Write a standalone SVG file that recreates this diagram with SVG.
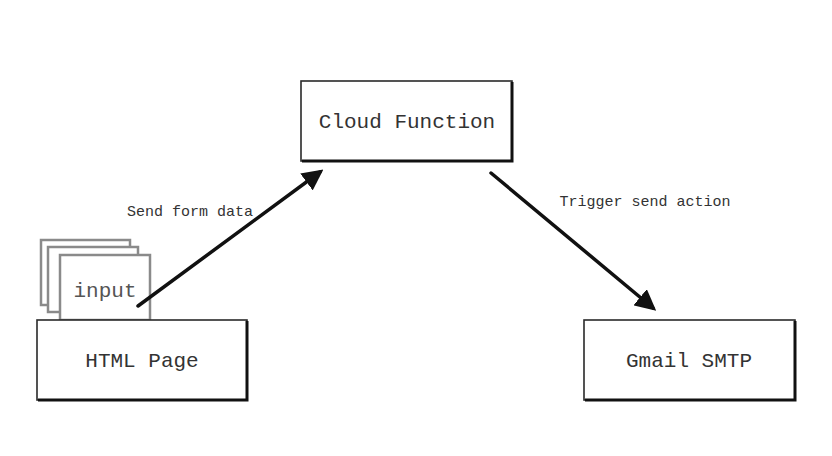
<svg xmlns="http://www.w3.org/2000/svg" width="832" height="456" viewBox="0 0 832 456">
<defs>
<style>
.box{fill:#fff;stroke:#2a2a2a;stroke-width:1.6}
.sh{fill:none;stroke:#111;stroke-width:3}
.lbl{font-family:"Liberation Mono",monospace;font-size:21px;fill:#333;text-anchor:middle}
.el{font-family:"Liberation Mono",monospace;font-size:15px;fill:#333;text-anchor:middle}
.card{fill:#fff;stroke:#8a8a8a;stroke-width:2.5}
.edge{stroke:#111;stroke-width:3.5;fill:none;stroke-linecap:round}
</style>
<marker id="ah" viewBox="0 0 10 10" refX="8" refY="5" markerWidth="6" markerHeight="6" markerUnits="strokeWidth" orient="auto">
<path d="M0,0 L10,5 L0,10 z" fill="#111"/>
</marker>
</defs>
<rect width="832" height="456" fill="#fff"/>
<g id="cloud-function">
<rect class="box" x="301" y="81" width="211" height="80"/>
<path class="sh" d="M512,82 L512,161 L302,161"/>
<text class="lbl" x="407" y="128">Cloud Function</text>
</g>
<g id="input">
<rect class="card" x="41" y="240" width="89" height="65"/>
<rect class="card" x="48" y="247" width="90" height="65"/>
<rect class="card" x="60" y="255" width="90" height="65"/>
<text class="lbl" x="105" y="297" style="fill:#555">input</text>
</g>
<g id="html-page">
<rect class="box" x="37" y="320" width="210" height="80"/>
<path class="sh" d="M247,321 L247,400 L38,400"/>
<text class="lbl" x="142" y="367">HTML Page</text>
</g>
<g id="gmail-smtp">
<rect class="box" x="584" y="320" width="211" height="80"/>
<path class="sh" d="M795,321 L795,400 L585,400"/>
<text class="lbl" x="689" y="367">Gmail SMTP</text>
</g>
<g id="connectors">
<line class="edge" x1="138" y1="306" x2="320" y2="172" marker-end="url(#ah)"/>
<text class="el" x="190" y="216">Send form data</text>
<line class="edge" x1="491" y1="173" x2="653" y2="308" marker-end="url(#ah)"/>
<text class="el" x="645" y="206">Trigger send action</text>
</g>
</svg>
